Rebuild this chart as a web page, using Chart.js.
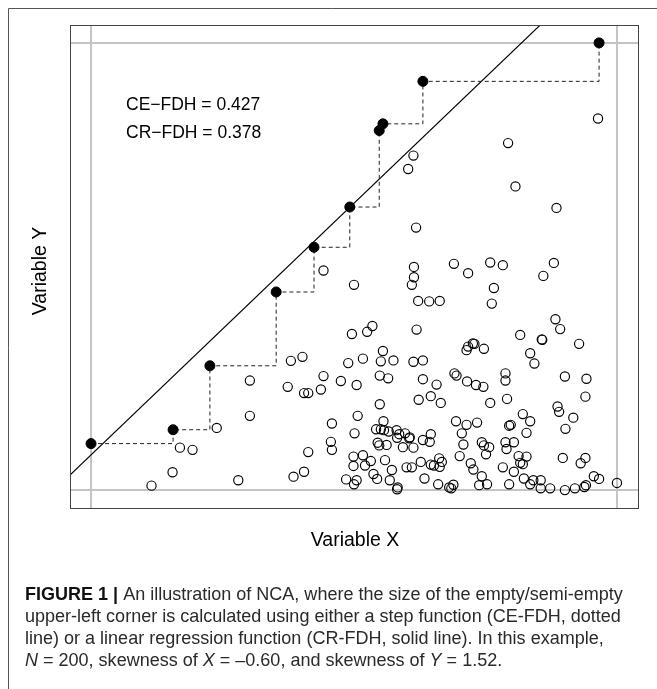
<!DOCTYPE html>
<html>
<head>
<meta charset="utf-8">
<script src="https://cdn.jsdelivr.net/npm/chart.js@4/dist/chart.umd.min.js"></script>
<style>
  html, body { margin: 0; padding: 0; background: #fff; }
  #c { display: block; }
</style>
</head>
<body>
<canvas id="c" width="657" height="689"></canvas>
<script>
// Observations (open circles), arbitrary units 0-100
const obsX = [44.2,50.0,49.6,38.0,40.2,48.9,30.2,37.4,40.5,41.3,43.7,44.2,47.5,50.5,30.2,23.9,16.9,19.3,15.5,11.5,
  28.0,38.5,40.5,41.3,45.8,45.6,45.8,49.9,49.9,48.5,50.0,50.5,50.7,50.1,51.7,61.3,60.3,79.3,80.7,88.5,
  96.4,61.8,61.4,69.0,71.7,75.9,78.3,88.0,86.0,61.4,61.0,62.2,64.3,66.3,76.6,76.2,52.5,53.5,61.9,88.3,
  89.2,81.6,85.7,85.8,92.8,71.4,71.7,72.6,72.9,74.7,83.5,84.3,55.5,55.1,57.5,61.3,63.1,54.9,56.5,63.1,
  65.7,69.1,69.5,71.5,73.2,74.6,78.8,78.8,90.1,94.2,62.3,64.6,66.5,54.9,75.9,79.1,94.0,88.7,89.0,91.7,
  90.2,55.6,54.2,55.1,55.7,56.6,58.1,58.6,58.2,59.7,60.6,60.5,54.5,54.8,56.2,59.3,61.3,63.1,64.6,64.4,
  69.4,71.4,70.5,70.8,70.1,72.2,51.7,53.2,52.1,53.7,54.4,55.9,57.2,56.8,60.0,61.0,62.7,64.6,65.2,66.2,
  66.3,66.7,63.4,66.0,68.1,68.9,68.5,58.3,58.2,73.4,72.7,74.3,74.7,75.7,75.1,74.3,73.8,75.3,78.3,79.5,
  79.8,78.8,80.4,79.0,81.3,82.8,81.6,82.1,80.4,79.5,82.1,83.5,82.8,82.3,83.5,84.1,85.5,85.5,87.3,89.7,
  93.1,94.0,90.1,92.0,93.8,94.1,95.6,96.6,100.0];
const obsY = [49.1,45.9,34.9,28.9,29.8,28.4,24.5,23.1,21.7,21.7,22.5,25.5,24.4,23.5,16.6,13.9,9.5,9.0,4.0,1.0,
  2.2,3.0,4.1,8.5,14.9,10.8,9.0,7.5,5.4,2.4,1.3,2.2,16.6,12.7,29.4,74.8,71.8,77.6,67.9,63.1,
  83.1,58.7,49.9,50.6,48.5,50.9,50.3,50.8,47.9,47.6,45.9,42.3,42.2,42.3,45.2,41.7,35.4,36.7,35.9,38.2,
  36.0,34.7,33.7,33.6,32.7,31.3,32.1,32.8,32.7,31.6,30.6,28.3,31.1,28.8,29.0,28.7,29.0,25.6,25.0,24.8,
  23.6,26.1,25.6,24.3,23.5,23.1,26.1,24.5,25.4,24.9,20.2,21.0,19.5,19.2,19.5,20.4,20.9,18.7,17.5,16.2,
  13.7,15.4,13.6,13.6,13.4,13.1,13.4,12.5,11.7,12.7,11.8,11.6,10.6,10.0,10.1,9.6,9.5,11.2,12.5,10.8,
  15.4,14.6,12.7,10.2,7.6,6.0,7.8,6.5,5.5,3.6,2.5,6.7,4.5,2.2,5.1,5.1,6.3,5.7,5.5,7.1,
  5.2,6.3,2.6,1.3,0.6,1.2,0.4,0.6,0.2,15.1,4.6,10.7,10.0,9.6,8.0,3.1,1.1,1.3,5.1,14.4,
  14.6,10.7,10.7,9.2,7.6,7.5,6.1,5.8,4.1,1.3,17.0,15.4,12.8,2.6,1.3,2.2,2.2,0.4,0.4,7.2,
  6.0,7.2,0.0,0.4,0.7,1.1,3.1,2.5,1.6];

// Peers on the ceiling (filled points), CE-FDH steps through them
const peerX = [0.0,15.6,22.6,35.2,42.4,49.2,54.8,55.5,63.1,96.6];
const peerY = [10.4,13.5,27.8,44.3,54.3,63.3,80.4,81.9,91.4,100.0];

// CR-FDH regression ceiling line (two end points)
const crX = [-4.0, 85.4];
const crY = [3.36, 104.0];

const effectLabels = ['CE\u2212FDH = 0.427', 'CR\u2212FDH = 0.378'];
const xTitle = 'Variable X';
const yTitle = 'Variable Y';

const allX = obsX.concat(peerX);
const allY = obsY.concat(peerY);
const xMin = Math.min(...allX), xMax = Math.max(...allX);
const yMin = Math.min(...allY), yMax = Math.max(...allY);
const padX = (xMax - xMin) * 0.04, padY = (yMax - yMin) * 0.04;
const lo = { x: xMin - padX, y: yMin - padY };
const hi = { x: xMax + padX, y: yMax + padY };

const GRAY = '#c4c4c4';
const FONT = '"Liberation Sans", Arial, sans-serif';

function pts(xs, ys) { return xs.map((x, i) => ({ x: x, y: ys[i] })); }

// caption lines: segments [text, style]
const captionLines = [
  [['FIGURE 1 | ', 'bold'], ['An illustration of NCA, where the size of the empty/semi-empty', '']],
  [['upper-left corner is calculated using either a step function (CE-FDH, dotted', '']],
  [['line) or a linear regression function (CR-FDH, solid line). In this example,', '']],
  [['N', 'italic'], [' = 200, skewness of ', ''], ['X', 'italic'], [' = \u20130.60, and skewness of ', ''], ['Y', 'italic'], [' = 1.52.', '']]
];

const decorPlugin = {
  id: 'decor',
  beforeDatasetsDraw(chart) {
    const { ctx } = chart;
    ctx.save();
    // outer figure frame (top + left)
    ctx.strokeStyle = '#555';
    ctx.lineWidth = 1;
    ctx.beginPath();
    ctx.moveTo(8.5, 689);
    ctx.lineTo(8.5, 8.5);
    ctx.lineTo(657, 8.5);
    ctx.stroke();
    ctx.restore();
  },
  afterDraw(chart) {
    const { ctx, chartArea: a } = chart;
    ctx.save();
    // plot box
    ctx.strokeStyle = '#444';
    ctx.lineWidth = 1;
    ctx.strokeRect(Math.round(a.left) + 0.5, Math.round(a.top) + 0.5,
      Math.round(a.right - a.left), Math.round(a.bottom - a.top));

    // effect size labels
    ctx.fillStyle = '#000';
    ctx.font = '17.5px ' + FONT;
    ctx.textBaseline = 'middle';
    ctx.textAlign = 'left';
    ctx.fillText(effectLabels[0], 126, 105);
    ctx.fillText(effectLabels[1], 126, 133);

    // axis titles
    ctx.font = '19.5px ' + FONT;
    ctx.textAlign = 'center';
    ctx.fillText(xTitle, 355, 541);
    ctx.translate(41, 271);
    ctx.rotate(-Math.PI / 2);
    ctx.fillText(yTitle, 0, 0);
    ctx.setTransform(1, 0, 0, 1, 0, 0);

    // caption
    ctx.textAlign = 'left';
    ctx.textBaseline = 'alphabetic';
    ctx.font = '16px ' + FONT;
    const w = ctx.measureText(captionLines[1][0][0]).width;
    const size = 16 * 596 / w;
    const base = [600, 622, 644, 666];
    captionLines.forEach((line, i) => {
      let x = 25;
      line.forEach(([t, st]) => {
        ctx.font = (st ? st + ' ' : '') + size.toFixed(2) + 'px ' + FONT;
        ctx.fillStyle = st === 'bold' ? '#111' : '#2a2a2a';
        ctx.fillText(t, x, base[i]);
        x += ctx.measureText(t).width;
      });
    });
    ctx.restore();
  }
};

new Chart(document.getElementById('c'), {
  type: 'scatter',
  data: {
    datasets: [
      {
        label: 'peers',
        data: pts(peerX, peerY),
        pointRadius: 5,
        pointBackgroundColor: '#000',
        pointBorderColor: '#000',
        pointBorderWidth: 1,
        showLine: false
      },
      {
        label: 'observations',
        data: pts(obsX, obsY),
        pointRadius: 4.6,
        pointBackgroundColor: 'rgba(0,0,0,0)',
        pointBorderColor: '#000',
        pointBorderWidth: 1.15,
        showLine: false
      },
      {
        label: 'CE-FDH',
        data: pts(peerX, peerY),
        showLine: true,
        stepped: 'before',
        borderColor: '#222',
        borderWidth: 1,
        borderDash: [4, 3],
        pointRadius: 0,
        fill: false
      },
      {
        label: 'CR-FDH',
        data: pts(crX, crY),
        showLine: true,
        borderColor: '#000',
        borderWidth: 1.1,
        pointRadius: 0,
        fill: false
      },
      {
        label: 'xmin',
        data: [{ x: xMin, y: lo.y }, { x: xMin, y: hi.y }],
        showLine: true, borderColor: GRAY, borderWidth: 2, pointRadius: 0
      },
      {
        label: 'xmax',
        data: [{ x: xMax, y: lo.y }, { x: xMax, y: hi.y }],
        showLine: true, borderColor: GRAY, borderWidth: 2, pointRadius: 0
      },
      {
        label: 'ymin',
        data: [{ x: lo.x, y: yMin }, { x: hi.x, y: yMin }],
        showLine: true, borderColor: GRAY, borderWidth: 2, pointRadius: 0
      },
      {
        label: 'ymax',
        data: [{ x: lo.x, y: yMax }, { x: hi.x, y: yMax }],
        showLine: true, borderColor: GRAY, borderWidth: 2, pointRadius: 0
      }
    ]
  },
  options: {
    responsive: false,
    animation: false,
    devicePixelRatio: 1,
    layout: { padding: { left: 70, right: 19, top: 25, bottom: 181 } },
    scales: {
      x: { type: 'linear', min: lo.x, max: hi.x, display: false },
      y: { type: 'linear', min: lo.y, max: hi.y, display: false }
    },
    plugins: {
      legend: { display: false },
      tooltip: { enabled: false }
    }
  },
  plugins: [decorPlugin]
});
</script>
</body>
</html>
